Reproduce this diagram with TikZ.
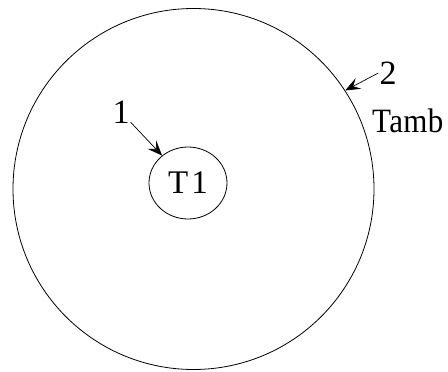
\documentclass[tikz,border=0pt]{standalone}
\usepackage{fontspec}
\setmainfont{Liberation Serif}
\usepackage{tikz}
\usetikzlibrary{shapes.geometric,arrows.meta}

\begin{document}
\begin{tikzpicture}[
  x=1pt, y=-1pt,
  vessel/.style={circle, draw, line width=0.8pt, inner sep=0pt,
                 minimum size=361pt},
  probe/.style={ellipse, draw, line width=0.8pt, inner sep=0pt,
                minimum width=78pt, minimum height=72pt,
                font=\fontsize{33}{33}\selectfont\addfontfeature{LetterSpace=10}},
  tag/.style={font=\fontsize{34}{34}\selectfont, inner sep=1pt},
  arrow/.style={-{Stealth[length=15pt, width=12pt, inset=6pt]}, line width=0.7pt},
]
  \useasboundingbox (0,0) rectangle (448,372);

  \node[vessel] (big) at (193.5,189) {};
  \node[probe]  (t1)  at (188,183) {T1};

  \node[tag] (one) at (121,112) {1};
  \node[tag] (two) at (388,73)  {2};
  \node[tag, anchor=base west, inner sep=0pt, yscale=1.1,
        font=\fontsize{31}{31}\selectfont\addfontfeature{LetterSpace=1}]
        (amb) at (372,132) {Tamb};

  \draw[arrow] (one) -- (t1);
  \draw[arrow] (two.west) -- (big.33);
\end{tikzpicture}
\end{document}
